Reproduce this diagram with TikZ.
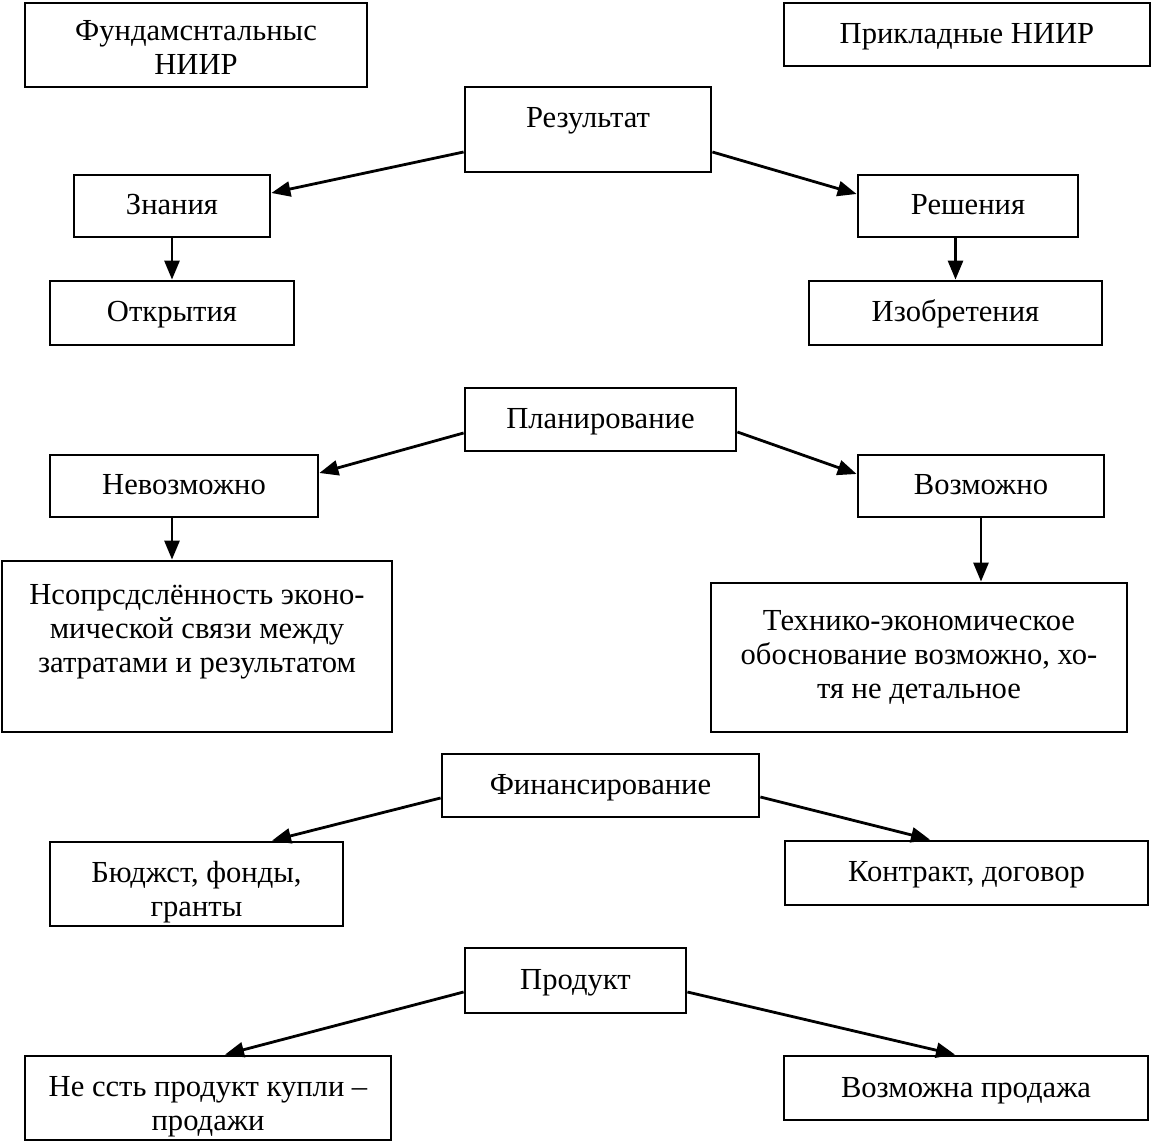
\documentclass[tikz,border=0pt]{standalone}
\usepackage{fontspec}
\setmainfont{Liberation Serif}
\usetikzlibrary{arrows.meta,calc}
\begin{document}
\begin{tikzpicture}[x=0.5pt,y=-0.5pt,
  box/.style={draw, line width=1.4pt, align=center, inner sep=0pt,
    font=\fontsize{15.3}{17}\selectfont},
  one/.style={text height=13.5pt, text depth=4.5pt},
  sz/.style 2 args={minimum width=#1*0.5pt, minimum height=#2*0.5pt},
  arr/.style={line width=1.4pt, -{Triangle[length=9.5pt,width=7.5pt]}}]
\useasboundingbox (0,0) rectangle (1153,1144);
\node (fund) [box, sz={342}{84}] at (196,45) {\rule{0pt}{12.5pt}Фундамснтальныс\\НИИР};
\node (prikl) [box, one, sz={366}{63}] at (967,34.5) {Прикладные НИИР};
\node (res) [box, sz={246}{85}, text height=12pt, text depth=14pt] at (588,129.5) {Результат};
\node (zn) [box, one, sz={196}{62}] at (172,206) {Знания};
\node (resh) [box, one, sz={220}{62}] at (968,206) {Решения};
\node (otkr) [box, one, sz={244}{64}] at (172,313) {Открытия};
\node (izob) [box, one, sz={293}{64}] at (955.5,313) {Изобретения};
\node (plan) [box, one, sz={271}{63}] at (600.5,419.5) {Планирование};
\node (nevoz) [box, one, sz={268}{62}] at (184,486) {Невозможно};
\node (voz) [box, one, sz={246}{62}] at (981,486) {Возможно};
\node (neopr) [box, sz={390}{171}] at (197,646.5) {Нсопрсдслённость эконо-\\мической связи между\\затратами и результатом\\[-4pt]\strut};
\node (tekh) [box, sz={416}{149}] at (919,657.5) {Технико-экономическое\\обоснование возможно, хо-\\тя не детальное};
\node (fin) [box, one, sz={317}{63}] at (600.5,785.5) {Финансирование};
\node (budg) [box, sz={293}{84}] at (196.5,884) {\rule{0pt}{19pt}Бюджст, фонды,\\гранты};
\node (kontr) [box, one, sz={363}{64}] at (966.5,873) {Контракт, договор};
\node (prod) [box, one, sz={221}{65}] at (575.5,980.5) {Продукт};
\node (ne) [box, sz={366}{84}] at (208,1098) {\rule{0pt}{19pt}Не ссть продукт купли –\\продажи};
\node (vozpr) [box, one, sz={364}{64}] at (966,1088) {Возможна продажа};
\draw[arr] ($(res.west)+(0,22.5)$) -- ($(zn.east)+(0,-13)$);
\draw[arr] ($(res.east)+(0,22.5)$) -- ($(resh.west)+(0,-12)$);
\draw[arr] (zn.south) -- (otkr.north);
\draw[arr] (resh.south -| izob.north) -- (izob.north);
\draw[arr] ($(plan.west)+(0,13.5)$) -- ($(nevoz.east)+(0,-13)$);
\draw[arr] ($(plan.east)+(0,12.5)$) -- ($(voz.west)+(0,-12)$);
\draw[arr] ($(nevoz.south)+(-12,0)$) -- ($(neopr.north)+(-25,0)$);
\draw[arr] (voz.south) -- (voz.south |- tekh.north);
\draw[arr] ($(fin.west)+(0,12.5)$) -- ($(budg.north)+(75.5,0)$);
\draw[arr] ($(fin.east)+(0,11.5)$) -- ($(kontr.north)+(-36.5,0)$);
\draw[arr] ($(prod.west)+(0,11.5)$) -- ($(ne.north)+(17,0)$);
\draw[arr] ($(prod.east)+(0,11.5)$) -- ($(vozpr.north)+(-11,0)$);
\end{tikzpicture}
\end{document}
